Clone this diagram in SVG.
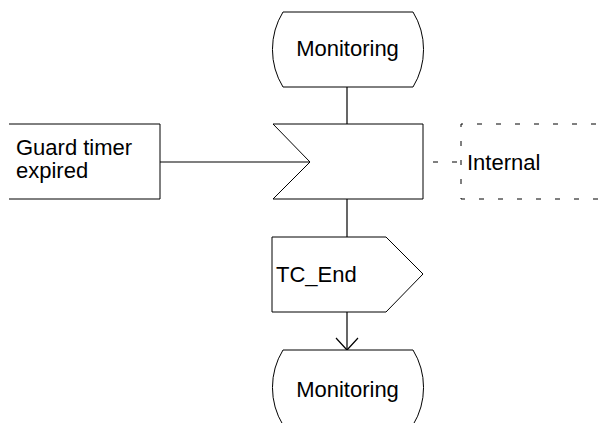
<svg xmlns="http://www.w3.org/2000/svg" width="608" height="423" viewBox="0 0 608 423">
<style>
.s{fill:#fff;stroke:#000;stroke-width:1}
.c{fill:none;stroke:#000;stroke-width:1.2}
.d{fill:none;stroke:#000;stroke-width:1;stroke-dasharray:5 14}
text{font-family:"Liberation Sans",Arial,sans-serif;font-size:22px;fill:#000}
</style>
<rect width="608" height="423" fill="#fff"/>
<g id="connectors">
<line class="c" x1="347" y1="87" x2="347" y2="124"/>
<line class="c" x1="160" y1="162" x2="310" y2="162"/>
<line class="c" x1="347" y1="199" x2="347" y2="237"/>
<line class="c" x1="347" y1="312" x2="347" y2="350"/>
<polyline class="c" points="336,338 347,350 358,338"/>
<line class="d" x1="423" y1="162" x2="461" y2="162" stroke-dashoffset="-10"/>
</g>
<g id="state-top">
<path class="s" d="M283,12 H413 A72,72 0 0 1 413,87 H283 A72,72 0 0 1 283,12 Z"/>
<text x="347.5" y="56" text-anchor="middle">Monitoring</text>
</g>
<g id="guard">
<path class="s" d="M9,124 H160 V199 H9"/>
<text x="16" y="155">Guard timer</text>
<text x="16" y="178">expired</text>
</g>
<g id="input">
<path class="s" d="M273,124 H423 V199 H273 L310,162 Z"/>
</g>
<g id="internal">
<path class="d" d="M615,124 H461 V199 H615"/>
<text x="467" y="170">Internal</text>
</g>
<g id="output">
<path class="s" d="M272,237 H386 L423,274 L386,312 H272 Z"/>
<text x="276" y="282">TC_End</text>
</g>
<g id="state-bottom">
<path class="s" d="M283,350 H413 A72,72 0 0 1 413,425 H283 A72,72 0 0 1 283,350 Z"/>
<text x="347.5" y="396.5" text-anchor="middle">Monitoring</text>
</g>
</svg>
